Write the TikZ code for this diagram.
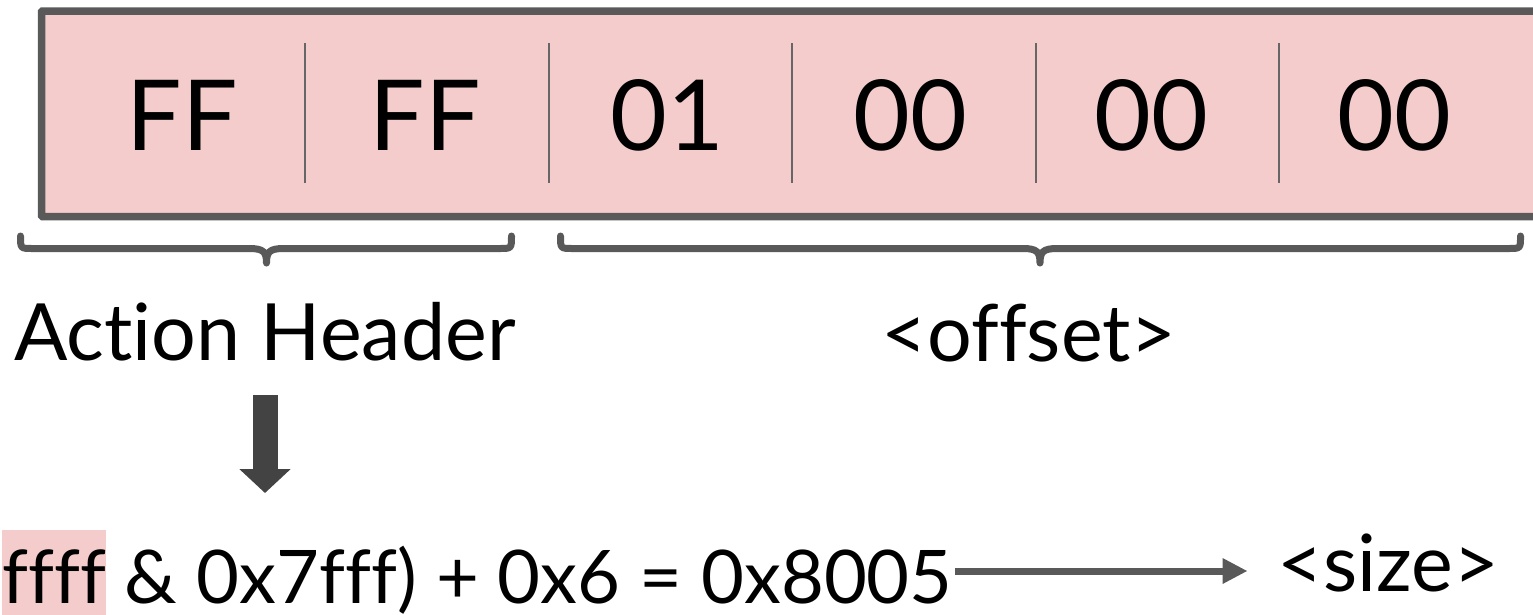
\documentclass[tikz,border=0pt]{standalone}
\usepackage{fontspec}
\setmainfont{Lato}[Ligatures={NoCommon,NoRare,NoContextual}]
\usetikzlibrary{arrows.meta}
\definecolor{pinkfill}{HTML}{F4CCCC}
\definecolor{edgegray}{HTML}{595959}
\definecolor{divgray}{HTML}{666666}
\definecolor{arrowgray}{HTML}{434343}
\newcommand\hlbox[1]{{\setlength{\fboxsep}{0pt}\colorbox{pinkfill}{\rule[-20pt]{0pt}{93pt}#1}}}
\newcommand\mybrace[3]{%
  \draw[bracestyle] (#1,236) .. controls (#1,248.5) .. (#1+12,248.5) -- (#2-17,248.5)
    .. controls (#2-3,248.5) and (#2,252) .. (#2,263) .. controls (#2,252) and (#2+3,248.5) .. (#2+17,248.5)
    -- (#3-12,248.5) .. controls (#3,248.5) .. (#3,236);}
\begin{document}
\begin{tikzpicture}[x=1pt,y=-1pt,
  cellstyle/.style={inner sep=0pt, anchor=base, font=\fontsize{98}{110}\selectfont},
  labelstyle/.style={inner sep=0pt, anchor=base, font=\fontsize{79}{90}\selectfont},
  formulastyle/.style={inner sep=0pt, anchor=base east, font=\fontsize{74}{90}\selectfont},
  regstyle/.style={draw=edgegray, fill=pinkfill, line width=7.5pt, rounded corners=1pt},
  divider/.style={draw=divgray, line width=2pt},
  bracestyle/.style={draw=edgegray, line width=7pt, line cap=round, line join=round},
  blockarrow/.style={draw=arrowgray, line width=25pt, -{Triangle[width=50pt,length=24pt]}},
  thinarrow/.style={draw=edgegray, line width=7pt, -{Triangle[width=24pt,length=25pt]}}]
\useasboundingbox (0,0) rectangle (1533,614);
% register box
\draw[regstyle] (41.5,11) rectangle (1545,216.5);
\foreach \x in {305,548.5,792,1035.5,1279}
  \draw[divider] (\x,43) -- (\x,183);
\node[cellstyle] (c1) at (182,150) {FF};
\node[cellstyle] (c2) at (425,150) {FF};
\node[cellstyle] (c3) at (667,150) {01};
\node[cellstyle] (c4) at (910,150) {00};
\node[cellstyle] (c5) at (1151,150) {00};
\node[cellstyle] (c6) at (1394,150) {00};
% braces
\mybrace{20.5}{266.5}{511.5}
\mybrace{560.5}{1040}{1520.5}
% labels
\node[labelstyle] (ah) at (265,360) {Action Header};
\node[labelstyle] (off) at (1029,361) {<offset>};
% formula
\node[formulastyle] (formula) at (953,603) {\hlbox{ffff} \& 0x7fff) + 0x6 = 0x8005};
\node[labelstyle] (size) at (1388.5,591) {<size>};
\coordinate (arrowend) at (265,493);
\draw[blockarrow] ([yshift=-35pt]ah.base) -- (arrowend);
\draw[thinarrow] ([yshift=32pt,xshift=2pt]formula.base east) -- ([yshift=20pt,xshift=-30pt]size.base west);
\end{tikzpicture}
\end{document}
